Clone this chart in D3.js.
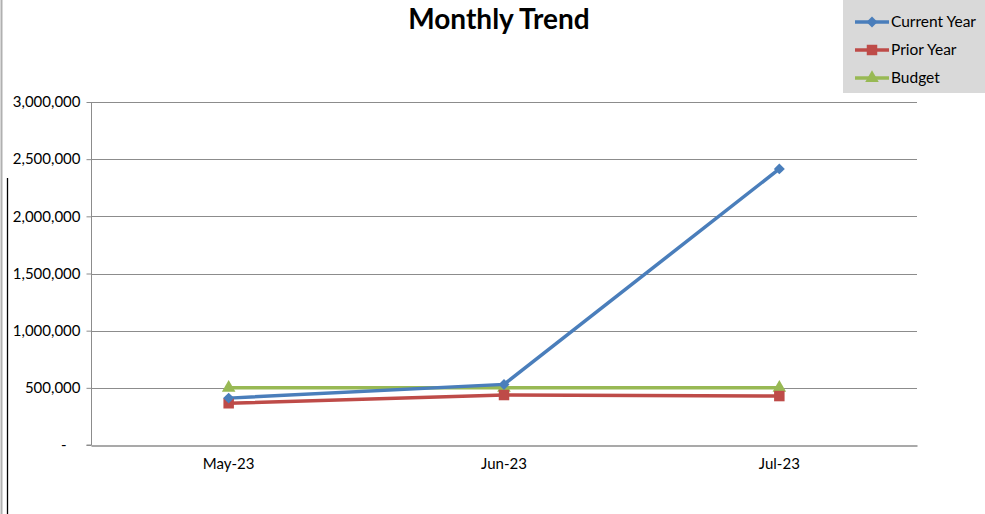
<!DOCTYPE html>
<html>
<head>
<meta charset="utf-8">
<script src="https://cdn.jsdelivr.net/npm/d3@7"></script>
<style>
  body { margin: 0; background: #fff; }
  svg { display: block; font-family: Lato, "Open Sans", sans-serif; }
</style>
</head>
<body>
<svg id="chart"></svg>
<script>
const months = ['May-23', 'Jun-23', 'Jul-23']
const currentYear = [410000, 530000, 2415000]
const priorYear = [365000, 437000, 428000]
const budget = [500000, 500000, 500000]
const yTicks = [0, 500000, 1000000, 1500000, 2000000, 2500000, 3000000]

const width = 985
const height = 514
const margin = { top: 102, right: 68, bottom: 69, left: 91 }
const font = 'Lato, "Open Sans", sans-serif'

const svg = d3.select('#chart')
  .attr('width', width)
  .attr('height', height)

// frame lines on the left edge
svg.append('line')
  .attr('x1', 1.5).attr('x2', 1.5).attr('y1', 0).attr('y2', height)
  .attr('stroke', '#b0b0b0').attr('stroke-width', 2)
svg.append('line')
  .attr('x1', 7.5).attr('x2', 7.5).attr('y1', 178).attr('y2', height)
  .attr('stroke', '#000').attr('stroke-width', 1.3)

const x = d3.scaleBand()
  .domain(months)
  .range([margin.left, width - margin.right])

const y = d3.scaleLinear()
  .domain([0, 3000000])
  .range([height - margin.bottom, margin.top])

const fmt = d => d === 0 ? '-' : d3.format(',')(d)

// gridlines
svg.append('g')
  .selectAll('line')
  .data(yTicks.filter(d => d > 0))
  .join('line')
  .attr('x1', margin.left)
  .attr('x2', width - margin.right)
  .attr('y1', d => Math.round(y(d)) + 0.5)
  .attr('y2', d => Math.round(y(d)) + 0.5)
  .attr('stroke', '#8c8c8c')
  .attr('stroke-width', 1)

const yAxis = g => g
  .attr('transform', `translate(${margin.left + 0.5},0)`)
  .call(d3.axisLeft(y).tickValues(yTicks).tickFormat(fmt).tickSize(5).tickPadding(6))
  .attr('font-family', font)
  .call(g => g.selectAll('line, path').attr('stroke', '#8c8c8c'))
  .call(g => g.selectAll('text').attr('font-size', 15).attr('fill', '#000'))
  .call(g => g.selectAll('text').filter(d => d === 0).attr('dx', -14))
  .call(g => g.select('.domain').attr('d', `M-5,${y(0)}H0V${y(3000000)}`))

const xAxis = g => g
  .attr('transform', `translate(0,${Math.round(y(0)) + 0.5})`)
  .call(d3.axisBottom(x).tickSize(0).tickPadding(13))
  .attr('font-family', font)
  .call(g => g.select('.domain').attr('stroke', '#8c8c8c').attr('stroke-width', 1.5))
  .call(g => g.selectAll('text').attr('font-size', 15).attr('fill', '#000'))

svg.append('g').call(xAxis)
svg.append('g').call(yAxis)

const series = [
  { name: 'Current Year', values: currentYear, color: '#4a7ebb', symbol: d3.symbolSquare, size: 60, rotate: 45 },
  { name: 'Prior Year', values: priorYear, color: '#be4b48', symbol: d3.symbolSquare, size: 110, rotate: 0 },
  { name: 'Budget', values: budget, color: '#98b954', symbol: d3.symbolTriangle, size: 80, rotate: 0 }
]

const line = d3.line()
  .x((_, i) => x(months[i]) + x.bandwidth() / 2)
  .y(d => y(d))

// draw budget first so the others overlap like the reference
const drawOrder = [series[2], series[1], series[0]]
drawOrder.forEach(s => {
  svg.append('path')
    .datum(s.values)
    .attr('fill', 'none')
    .attr('stroke', s.color)
    .attr('stroke-width', 3.5)
    .attr('d', line)
})
drawOrder.forEach(s => {
  svg.append('g')
    .selectAll('path')
    .data(s.values)
    .join('path')
    .attr('transform', (d, i) => `translate(${x(months[i]) + x.bandwidth() / 2},${y(d)}) rotate(${s.rotate})`)
    .attr('d', d3.symbol().type(s.symbol).size(s.size))
    .attr('fill', s.color)
})

// title
svg.append('text')
  .attr('x', 499)
  .attr('y', 29)
  .attr('text-anchor', 'middle')
  .attr('font-size', 28)
  .attr('font-weight', 'bold')
  .text('Monthly Trend')

// legend
const legend = svg.append('g')
legend.append('rect')
  .attr('x', 843).attr('y', 0)
  .attr('width', 142).attr('height', 93)
  .attr('fill', '#d9d9d9')

series.forEach((s, i) => {
  const ly = 22 + i * 28
  legend.append('line')
    .attr('x1', 855).attr('x2', 889)
    .attr('y1', ly).attr('y2', ly)
    .attr('stroke', s.color).attr('stroke-width', 3.5)
  legend.append('path')
    .attr('transform', `translate(872,${ly}) rotate(${s.rotate})`)
    .attr('d', d3.symbol().type(s.symbol).size(s.size))
    .attr('fill', s.color)
  legend.append('text')
    .attr('x', 891).attr('y', ly + 5)
    .attr('font-size', 15.5)
    .text(s.name)
})
</script>
</body>
</html>
